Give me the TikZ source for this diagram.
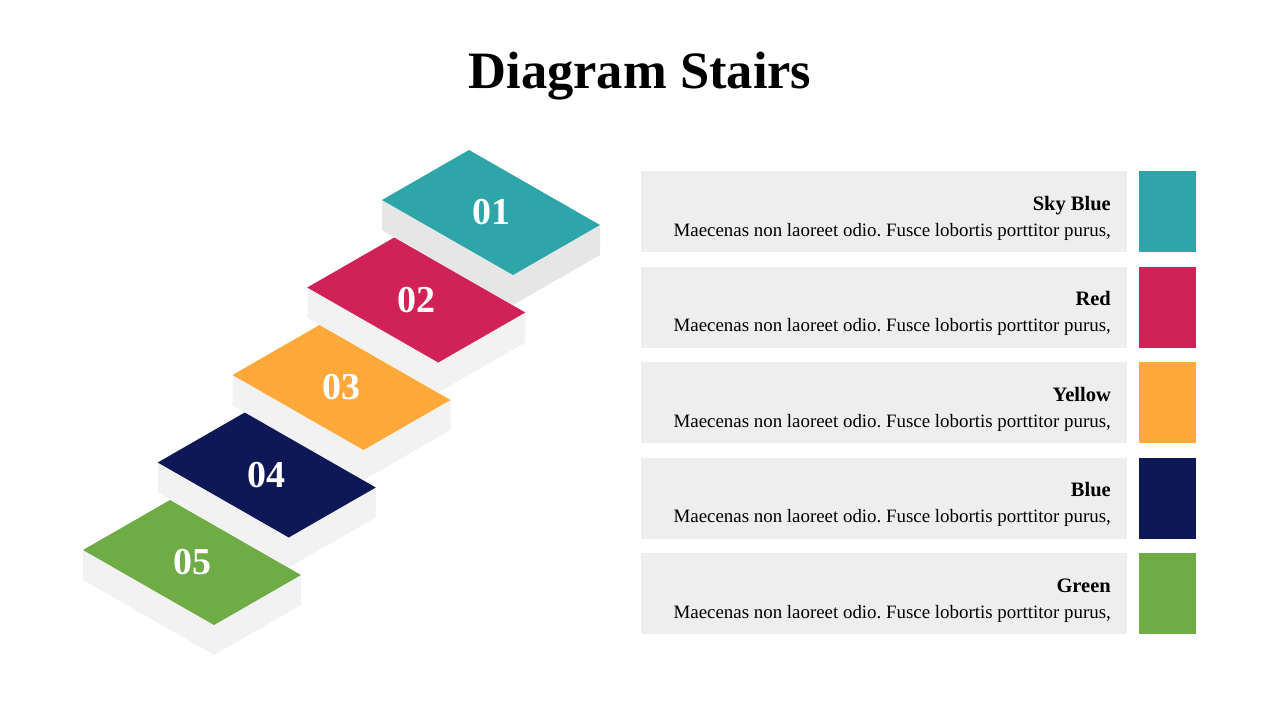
\documentclass[tikz,border=0pt]{standalone}
\usepackage{fontspec}
\setmainfont{Liberation Serif}
\frenchspacing
\definecolor{skyblue}{HTML}{2EA5A9}
\definecolor{crimson}{HTML}{D02257}
\definecolor{amber}{HTML}{FFA93B}
\definecolor{navy}{HTML}{0F1857}
\definecolor{leafgreen}{HTML}{70AC46}
\definecolor{sidegray}{HTML}{F2F2F2}
\definecolor{sidedark}{HTML}{E6E6E6}
\definecolor{boxgray}{HTML}{EEEEEE}

\begin{document}
\begin{tikzpicture}[x=1pt,y=-1pt,
   title/.style={anchor=base,font=\bfseries\fontsize{52.5}{52.5}\selectfont},
   numlabel/.style={text=white,font=\bfseries\fontsize{38}{38}\selectfont},
   infobox/.style={fill=boxgray,minimum width=486pt,minimum height=81pt,anchor=north west,inner sep=0pt},
   swatch/.style={minimum width=57pt,minimum height=81pt,anchor=north west,inner sep=0pt},
   heading/.style={anchor=base east,inner sep=0pt,font=\bfseries\fontsize{20.5}{20.5}\selectfont},
   body/.style={anchor=base east,inner sep=0pt,font=\fontsize{18.9}{18.9}\selectfont}]
   \useasboundingbox (0,0) rectangle (1280,720);
   \node[title] (title) at (640,88) {Diagram Stairs};
   % stairs, back to front
   \foreach \i/\col/\side/\num in {0/skyblue/sidedark/01,1/crimson/sidegray/02,
       2/amber/sidegray/03,3/navy/sidegray/04,4/leafgreen/sidegray/05} {
     \begin{scope}[shift={({469-74.75*\i},{150+87.5*\i})}]
       \fill[\side] (-87,50) -- (44,125) -- (131,75) -- (131,105) -- (44,155) -- (-87,80) -- cycle;
       \fill[\col] (0,0) -- (-87,50) -- (44,125) -- (131,75) -- cycle;
       \node[numlabel] (step\num) at (22,62.5) {\num};
     \end{scope}
   }
   % legend rows
   \foreach \i/\col/\name in {0/skyblue/Sky Blue,1/crimson/Red,2/amber/Yellow,
       3/navy/Blue,4/leafgreen/Green} {
     \node[infobox] (box\i) at (641,{171+95.5*\i}) {};
     \node[swatch,fill=\col] (swatch\i) at (1139,{171+95.5*\i}) {};
     \node[heading] (head\i) at (1111,{210+95.5*\i}) {\name};
     \node[body] (text\i) at (1111,{236+95.5*\i}) {Maecenas non laoreet odio. Fusce lobortis porttitor purus,};
   }
\end{tikzpicture}
\end{document}
